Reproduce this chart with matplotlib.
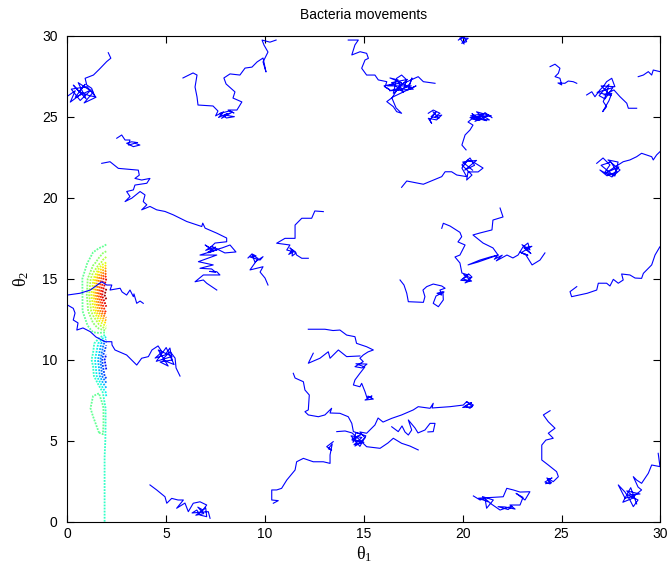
import matplotlib
matplotlib.use("Agg")
import matplotlib.pyplot as plt
import numpy as np

plt.rcParams["font.family"] = ["Liberation Sans", "DejaVu Sans"]
plt.rcParams["mathtext.fontset"] = "custom"
plt.rcParams["mathtext.rm"] = "Liberation Serif"
plt.rcParams["mathtext.it"] = "Liberation Serif:italic"

# nutrient field, sampled on a narrow strip along the left wall
grid_x = [0.4, 0.7, 1.0, 1.3, 1.6, 1.8, 1.97]
grid_y = list(range(19))
field_rows = [
    [0, 0, 0, 0, 0, -0.1, -0.5],
    [0, 0, 0, 0, 0, -0.1, -0.5],
    [0, 0, 0, 0, 0, -0.1, -0.5],
    [0, 0, 0, 0, 0, -0.1, -0.5],
    [0, 0, 0, 0, 0.05, -0.1, -0.5],
    [0, 0, 0, 0.1, 0.15, 0.2, -0.5],
    [0, 0, 0, 0.15, 0.45, 0.45, -0.5],
    [0, 0, 0.1, 0.45, 0.55, 0.45, -0.5],
    [0, 0, 0, 0.25, 0.28, -0.35, -0.9],
    [0, 0, 0, -0.15, -1.2, -2.2, -2.8],
    [0, 0, 0, -0.4, -1.6, -2.7, -3.3],
    [0, 0, -0.05, -0.15, -0.9, -1.8, -2.4],
    [0, 0.07, 0.22, 0.5, 0.95, 1.3, 1.6],
    [0, 0.2, 0.63, 1.6, 3.0, 3.9, 4.5],
    [0, 0.15, 0.84, 2.2, 3.9, 5.0, 5.6],
    [0, 0.2, 0.7, 1.7, 3.3, 4.2, 4.8],
    [0, 0.08, 0.27, 0.6, 1.05, 1.5, 1.8],
    [0, 0, 0.05, 0.12, 0.2, 0.29, 0.35],
    [0, 0, 0, 0, 0, 0, -0.1],
]
contour_levels = [-3.0, -2.5, -2.0, -1.4, -0.8, -0.3, 0.3, 0.8, 1.3, 1.8,
                  2.3, 2.8, 3.3, 3.8, 4.3, 4.8, 5.3]

# bacteria tracks (theta1, theta2)
w01_x = [0.05, 0.40, 0.15, 0.70, 0.30, 0.95, 0.55, 1.30, 0.85, 1.45, 1.00, 0.20,
         0.65, 1.20, 0.40, 0.90, 0.60, 1.10, 1.40, 1.23, 0.98, 0.90, 1.32, 1.62,
         1.99, 2.20, 2.07]
w01_y = [26.30, 26.60, 25.90, 26.40, 26.95, 26.10, 27.10, 26.50, 25.85, 26.20,
         26.85, 26.70, 26.00, 26.65, 26.20, 27.00, 26.55, 26.30, 26.23, 26.75,
         26.96, 27.37, 27.57, 27.93, 28.40, 28.61, 28.95]

w02_x = [5.85, 6.36, 6.56, 6.46, 6.56, 6.61, 7.37, 7.62, 7.50, 7.90, 7.65, 8.10,
         7.80, 8.30, 7.95, 8.45, 8.05, 7.70, 8.20, 8.43, 8.13, 8.58, 8.83, 8.38,
         8.48, 8.03, 7.92, 8.23, 8.73, 8.99, 9.34, 9.60, 9.90, 10.05, 9.90,
         10.15, 9.95, 9.85, 10.25, 10.56]
w02_y = [27.39, 27.70, 27.57, 26.83, 26.22, 25.72, 25.66, 25.35, 25.05, 25.30,
         24.95, 25.20, 24.90, 25.25, 25.10, 25.00, 24.92, 25.20, 25.35, 25.23,
         25.41, 25.41, 25.91, 26.15, 26.53, 27.02, 27.39, 27.64, 27.57, 28.00,
         28.06, 28.38, 28.62, 27.76, 28.38, 28.99, 29.42, 29.73, 29.60, 29.73]

w03_x = [2.50, 2.75, 2.92, 3.17, 3.09, 3.42, 3.67, 3.34, 3.00, 3.25, 3.55]
w03_y = [23.67, 23.87, 23.56, 23.56, 23.25, 23.36, 23.25, 23.15, 23.36, 23.45,
         23.40]

w04_x = [1.74, 2.16, 2.58, 3.59, 3.64, 3.42, 3.76, 4.18, 4.02, 3.42, 3.34, 3.00,
         3.17, 2.92, 3.26, 3.68, 3.93, 3.84, 4.02, 3.76, 4.18, 4.52, 4.94, 5.36,
         6.04, 6.80, 6.85, 6.97, 7.56, 8.06, 8.06, 7.47, 7.22, 6.97, 7.32, 7.12,
         7.83, 8.23, 8.53, 7.97, 7.30, 7.00, 7.50, 7.15, 7.60, 6.71, 7.56, 6.63,
         7.38, 6.71, 7.30, 7.50, 7.20, 7.56, 7.72, 6.88, 6.46, 6.88, 7.05, 7.56]
w04_y = [22.12, 22.22, 21.81, 21.70, 21.39, 21.19, 21.09, 21.19, 20.89, 20.78,
         20.48, 20.38, 20.07, 19.76, 19.97, 20.38, 20.17, 19.76, 19.56, 19.25,
         19.46, 19.25, 19.15, 18.94, 18.53, 18.22, 18.43, 18.12, 17.81, 17.51,
         17.28, 17.20, 16.90, 17.08, 16.77, 16.65, 16.90, 17.08, 16.65, 16.59,
         17.00, 16.75, 16.95, 16.60, 16.80, 16.46, 16.46, 16.05, 15.85, 15.64,
         15.60, 15.40, 15.45, 15.43, 15.23, 15.23, 14.81, 14.92, 14.72, 14.30]

w05_x = [9.14, 9.34, 9.55, 9.24, 9.75, 9.90, 9.49, 9.35, 9.65, 9.24, 9.64, 9.90,
         9.75, 10.00, 10.15]
w05_y = [16.28, 16.53, 16.40, 16.34, 16.15, 16.36, 16.03, 16.45, 16.25, 15.54,
         15.66, 15.74, 15.41, 15.04, 14.61]

w06_x = [12.95, 12.52, 12.36, 11.86, 11.52, 11.52, 11.01, 10.59, 11.26, 11.10,
         11.43, 11.26, 11.57, 11.37, 11.40, 11.20, 11.50, 11.60, 11.86, 12.19]
w06_y = [19.14, 19.18, 18.73, 18.73, 18.31, 17.49, 17.49, 17.19, 17.08, 16.77,
         16.67, 16.90, 16.59, 16.40, 16.80, 16.50, 16.70, 16.46, 16.26, 16.26]

w07_x = [14.21, 14.72, 14.55, 14.47, 14.39, 14.81, 15.14, 15.23, 15.06, 14.89,
         15.14, 15.56, 15.73, 16.16, 16.07, 16.32, 16.02, 16.47, 16.73, 16.32,
         16.90, 16.20, 17.40, 16.60, 17.20, 16.40, 17.00, 16.70, 17.50, 16.30,
         16.83, 16.49, 16.66, 16.91, 17.17, 17.03, 17.33, 17.43, 17.23, 17.64,
         16.49, 16.16, 16.49, 16.66, 16.91, 16.63, 16.42, 16.83, 17.75, 18.01,
         18.60]
w07_y = [29.73, 29.73, 29.43, 29.12, 28.81, 29.01, 28.91, 28.60, 28.50, 27.99,
         27.57, 27.57, 27.27, 27.16, 26.83, 26.65, 26.90, 27.02, 27.27, 27.39,
         27.10, 26.90, 26.90, 26.60, 27.30, 27.10, 26.50, 27.20, 26.70, 26.60,
         26.77, 26.44, 27.37, 27.57, 27.27, 26.77, 27.02, 27.39, 26.65, 26.90,
         26.23, 25.93, 25.62, 25.31, 25.21, 25.54, 26.15, 26.96, 27.47, 27.16,
         27.06]

w08_x = [18.26, 18.51, 18.85, 18.60, 18.94, 18.68, 18.26, 18.43, 18.34, 18.65,
         18.40, 18.80, 18.50]
w08_y = [25.21, 25.41, 25.21, 25.00, 25.10, 24.80, 24.90, 24.59, 24.80, 25.29,
         25.00, 24.90, 25.30]

w09_x = [21.48, 21.13, 20.78, 20.47, 20.87, 20.37, 21.28, 20.62, 21.05, 20.50,
         21.35, 20.90, 20.40, 21.20, 20.70, 21.45, 20.55, 20.27, 20.52, 20.37,
         20.12, 19.96, 20.17]
w09_y = [24.94, 25.25, 24.88, 25.19, 24.77, 24.94, 25.06, 24.71, 25.20, 24.85,
         24.80, 25.15, 25.05, 24.75, 25.30, 25.05, 24.95, 24.67, 24.48, 24.18,
         23.87, 23.25, 22.95]

w10_x = [16.91, 17.17, 18.01, 18.94, 19.11, 19.44, 19.70, 20.20, 19.96, 20.27,
         20.62, 20.78, 21.03, 20.78, 20.27, 20.20, 20.47, 19.96, 20.37, 20.60,
         20.10, 20.70, 20.00, 20.50]
w10_y = [20.64, 21.03, 20.83, 21.30, 21.60, 21.60, 21.40, 21.30, 21.83, 22.33,
         22.14, 22.02, 21.83, 21.59, 21.59, 21.09, 21.40, 22.02, 22.45, 22.00,
         21.70, 22.30, 22.20, 21.70]

w11_x = [24.42, 24.67, 24.92, 24.84, 24.67, 24.92, 25.01, 24.82, 25.17, 25.34,
         25.59, 25.77]
w11_y = [28.09, 28.24, 27.99, 27.68, 27.47, 27.37, 26.96, 27.08, 27.06, 27.20,
         27.16, 27.06]

w12_x = [26.27, 26.53, 26.69, 26.94, 27.11, 27.28, 27.54, 27.70, 27.00, 27.50,
         26.80, 27.60, 27.20, 26.90, 27.40, 27.35, 27.28, 27.11, 27.28, 27.08,
         27.40, 27.54, 27.15, 27.65, 27.96, 28.30, 28.38, 28.80]
w12_y = [26.34, 26.54, 26.23, 26.65, 26.85, 27.16, 27.37, 26.85, 26.90, 26.30,
         26.50, 26.80, 26.10, 26.30, 27.00, 26.77, 26.44, 25.93, 25.62, 25.31,
         25.99, 26.44, 26.34, 26.65, 26.23, 25.83, 25.52, 25.52]

w13_x = [28.88, 29.14, 29.39, 29.56, 29.64, 29.98, 30.18]
w13_y = [27.47, 27.57, 27.78, 27.57, 27.88, 27.78, 27.70]

w14_x = [26.78, 27.10, 27.45, 27.20, 27.70, 27.86, 27.35, 27.96, 27.55, 26.94,
         27.30, 27.80, 27.50, 27.00, 27.60, 27.90, 27.20, 28.12, 28.46, 28.80,
         29.05, 29.56, 29.64, 29.81, 29.98]
w14_y = [22.12, 22.45, 22.02, 21.59, 21.34, 22.20, 22.33, 21.71, 21.28, 21.71,
         21.35, 21.60, 22.20, 22.00, 21.40, 21.90, 21.50, 22.22, 22.33, 22.53,
         22.74, 22.53, 22.33, 22.64, 22.84]

w15_x = [18.94, 19.02, 19.36, 19.86, 19.95, 19.76, 20.12, 19.86, 19.61, 19.86,
         19.96, 20.27, 20.02, 20.37, 20.12, 20.47, 20.30, 19.90, 20.45, 20.05,
         20.40]
w15_y = [18.11, 18.42, 18.25, 17.86, 17.59, 17.27, 17.08, 16.46, 16.34, 15.97,
         15.35, 15.23, 14.98, 14.86, 14.74, 15.10, 15.30, 14.90, 14.85, 15.25,
         15.05]

w16_x = [21.89, 22.04, 21.53, 21.48, 20.87, 20.52, 21.03, 21.53, 21.79, 21.39,
         20.87, 20.27, 20.78, 21.79, 21.60, 22.00, 21.70, 22.24, 22.54, 22.80,
         23.05, 23.30, 23.40, 23.00, 23.45, 23.10, 23.50, 22.95, 23.30, 22.90,
         23.20, 23.51, 23.91, 24.16]
w16_y = [19.36, 18.81, 18.62, 18.01, 17.82, 17.70, 17.20, 16.90, 16.46, 16.34,
         16.15, 15.85, 16.03, 16.46, 16.20, 16.45, 16.10, 16.46, 16.28, 16.46,
         16.96, 17.20, 16.77, 17.10, 16.55, 16.90, 17.00, 16.60, 16.45, 16.65,
         16.46, 15.85, 16.15, 16.59]

w17_x = [25.77, 25.43, 25.51, 26.30, 26.78, 26.86, 27.28, 27.45, 27.62, 27.87,
         28.12, 28.04, 28.46, 28.72, 29.05, 29.14, 29.31, 29.56, 29.73, 29.98,
         30.08]
w17_y = [14.51, 14.20, 13.89, 14.10, 14.30, 14.72, 14.72, 14.55, 14.96, 14.72,
         14.92, 15.29, 15.23, 15.04, 15.02, 15.33, 15.54, 15.85, 16.46, 16.98,
         16.71]

w18_x = [24.42, 24.08, 24.33, 24.67, 24.33, 24.58, 24.21, 24.00, 24.00, 24.33,
         24.75, 24.84, 24.58, 24.26, 24.42, 24.16, 24.52, 24.30, 24.50, 24.20]
w18_y = [6.85, 6.59, 6.17, 5.77, 5.46, 5.15, 5.04, 4.73, 3.81, 3.50, 3.09, 2.78,
         2.47, 2.70, 2.33, 2.45, 2.70, 2.60, 2.40, 2.35]

w19_x = [20.54, 20.88, 21.13, 21.21, 21.55, 21.00, 21.35, 20.80, 22.05, 22.23,
         22.56, 22.90, 23.40, 23.15, 22.70, 23.05, 22.90, 22.39, 22.65, 22.14,
         21.79, 22.30, 22.50, 22.20, 21.89, 21.38]
w19_y = [1.59, 1.34, 1.44, 0.83, 1.34, 1.55, 1.20, 1.45, 1.54, 2.06, 1.96, 1.83,
         1.85, 1.34, 1.75, 1.50, 1.03, 1.03, 0.78, 0.91, 0.93, 0.75, 0.95, 0.85,
         0.72, 1.15]

w20_x = [29.89, 29.98, 29.56, 29.39, 29.05, 28.80, 28.63, 28.87, 29.05, 28.63,
         28.21, 27.87, 28.21, 28.46, 28.63, 28.87, 28.36, 28.97, 28.30, 28.70,
         28.10, 28.50, 28.80]
w20_y = [4.22, 3.40, 3.50, 2.99, 2.37, 2.57, 2.78, 2.14, 1.96, 1.54, 1.46, 2.27,
         1.83, 1.34, 0.93, 1.34, 1.65, 1.71, 1.90, 1.50, 1.20, 2.10, 1.10]

w21_x = [13.45, 13.12, 13.37, 13.20, 13.40, 13.29, 13.29, 12.95, 12.44, 11.94,
         11.60, 11.52, 11.10, 10.84, 10.59, 10.34, 10.34, 10.67, 10.42]
w21_y = [4.94, 4.63, 4.43, 4.50, 4.80, 4.12, 3.60, 3.70, 3.70, 3.91, 3.70, 3.19,
         2.57, 2.06, 1.96, 1.96, 1.34, 1.30, 1.14]

w22_x = [11.43, 11.52, 11.94, 12.02, 12.24, 12.19, 12.02, 12.19, 12.70, 13.03,
         13.37, 13.29, 13.79, 14.21, 14.39, 14.47, 14.90, 14.40, 15.00, 14.50,
         14.90, 14.35, 14.80, 15.10, 14.60, 14.45, 14.70, 14.40, 14.91, 14.55,
         15.06, 14.80, 15.14, 15.56, 15.72, 15.97, 16.41, 16.91, 17.50, 17.75,
         18.35, 18.51, 18.45, 19.36, 20.03, 20.20, 20.54, 20.37, 20.12, 20.45,
         20.00, 20.50, 20.20]
w22_y = [9.16, 8.87, 8.64, 8.13, 7.82, 6.90, 6.79, 6.59, 6.48, 6.59, 7.00, 6.71,
         6.69, 6.48, 6.07, 5.56, 5.40, 5.10, 4.90, 4.75, 5.20, 5.30, 4.65, 5.30,
         5.50, 4.90, 5.29, 5.04, 4.92, 4.67, 5.17, 5.54, 5.46, 5.97, 6.40, 6.15,
         6.38, 6.59, 6.90, 7.10, 7.00, 7.31, 7.02, 7.10, 7.20, 7.41, 7.20, 7.00,
         7.14, 7.35, 7.05, 7.10, 7.40]

w23_x = [13.63, 14.05, 14.40, 14.80, 15.14, 15.82, 16.22, 16.49, 16.91, 17.33,
         17.75]
w23_y = [5.56, 5.60, 5.48, 5.04, 4.63, 4.53, 4.86, 5.15, 4.84, 4.67, 4.43]

w24_x = [16.41, 16.74, 16.93, 17.08, 17.25, 17.42, 17.25, 17.59, 17.74, 18.09,
         18.35, 18.60, 18.51, 18.24]
w24_y = [5.86, 5.56, 5.91, 5.54, 5.35, 5.66, 6.28, 5.78, 5.48, 5.66, 6.07, 6.07,
         5.56, 5.54]

w25_x = [12.19, 13.03, 13.44, 13.79, 14.13, 14.55, 14.63, 15.14, 15.48, 15.21,
         14.97, 14.80, 14.97, 14.55, 14.91, 15.16, 14.60, 15.05, 14.80, 14.55,
         14.47, 14.80, 14.89, 15.06, 15.16, 15.41, 15.06, 15.48, 15.20, 15.40]
w25_y = [11.88, 11.88, 11.80, 11.83, 11.52, 11.42, 11.01, 10.80, 10.60, 10.48,
         10.29, 10.09, 9.88, 9.57, 9.49, 9.73, 9.75, 9.55, 9.16, 8.75, 8.44, 8.33,
         8.54, 8.02, 7.64, 7.76, 7.51, 7.57, 7.75, 7.62]

w26_x = [12.44, 12.19, 12.78, 13.20, 13.29, 13.71, 14.13, 14.80]
w26_y = [10.40, 9.78, 10.09, 10.49, 10.09, 10.60, 10.19, 10.23]

w27_x = [16.83, 17.03, 17.17, 17.25, 18.01, 18.09, 17.99, 18.18, 18.51, 18.94,
         19.11, 18.85, 18.94, 18.70, 19.00, 19.02, 18.77, 18.51, 18.65, 19.05]
w27_y = [14.92, 14.61, 14.10, 13.58, 13.54, 13.89, 14.30, 14.51, 14.67, 14.55,
         14.41, 14.30, 13.99, 14.10, 14.20, 13.69, 13.27, 13.48, 13.93, 14.18]

w28_x = [4.18, 4.52, 4.94, 5.03, 5.28, 5.60, 5.87, 5.53, 5.95, 6.12, 6.37, 6.71,
         7.05, 6.86, 6.60, 6.90, 6.50, 7.00, 7.05, 6.71, 6.55, 6.31, 7.13, 7.22]
w28_y = [2.27, 1.96, 1.54, 1.14, 1.44, 1.34, 1.34, 0.83, 1.15, 0.62, 1.14, 1.23,
         1.03, 0.72, 0.90, 0.50, 0.40, 0.85, 0.31, 0.41, 0.72, 0.54, 0.62, 0.21]

w29_x = [0.00, 0.64, 1.16, 1.74, 1.99, 2.25, 2.16, 2.67, 2.77, 3.00, 3.07, 3.17,
         3.34, 3.37, 3.51, 3.68, 3.84]
w29_y = [13.99, 14.10, 14.30, 14.81, 14.61, 14.61, 14.30, 14.41, 14.18, 13.99,
         14.12, 14.30, 13.89, 14.06, 13.48, 13.62, 13.48]

w30_x = [0.00, 0.30, 0.39, 0.30, 0.54, 0.48, 0.79, 1.16, 1.45, 1.91, 2.25, 2.26,
         2.41, 3.00, 3.51, 3.76, 4.10, 4.28, 4.59, 4.79, 4.44, 4.94, 5.19, 5.30,
         4.69, 5.10, 4.60, 5.30, 4.50, 5.00, 5.40, 4.80, 5.20, 5.45, 5.50, 5.70]
w30_y = [13.38, 13.17, 12.88, 12.45, 12.27, 11.83, 11.96, 11.73, 11.40, 11.11,
         11.11, 10.91, 10.60, 10.29, 9.67, 10.09, 10.19, 10.60, 10.85, 10.48,
         10.10, 10.29, 10.72, 9.98, 9.86, 9.61, 10.60, 10.20, 9.90, 10.75, 9.70,
         10.00, 10.50, 10.10, 9.49, 8.99]

w31_x = [19.78, 20.03, 20.20, 19.95, 20.28, 19.86, 20.07]
w31_y = [29.73, 29.94, 29.63, 29.53, 29.84, 29.86, 29.49]

walks = [
    (w01_x, w01_y), (w02_x, w02_y), (w03_x, w03_y), (w04_x, w04_y),
    (w05_x, w05_y), (w06_x, w06_y), (w07_x, w07_y), (w08_x, w08_y),
    (w09_x, w09_y), (w10_x, w10_y), (w11_x, w11_y), (w12_x, w12_y),
    (w13_x, w13_y), (w14_x, w14_y), (w15_x, w15_y), (w16_x, w16_y),
    (w17_x, w17_y), (w18_x, w18_y), (w19_x, w19_y), (w20_x, w20_y),
    (w21_x, w21_y), (w22_x, w22_y), (w23_x, w23_y), (w24_x, w24_y),
    (w25_x, w25_y), (w26_x, w26_y), (w27_x, w27_y), (w28_x, w28_y),
    (w29_x, w29_y), (w30_x, w30_y), (w31_x, w31_y),
]

fig = plt.figure(figsize=(6.72, 5.82), dpi=100)
ax = fig.add_axes([0.1002, 0.1036, 0.8825, 0.8351])

ax.contour(grid_x, grid_y, np.array(field_rows), levels=contour_levels,
           cmap="jet", vmin=-4.4, vmax=5.6, linewidths=1.3,
           linestyles=[(0, (1.0, 0.7))])

for wx, wy in walks:
    ax.plot(wx, wy, color="#0000ff", lw=0.8)

ax.set_xlim(0, 30)
ax.set_ylim(0, 30)
ax.set_xticks(range(0, 31, 5))
ax.set_yticks(range(0, 31, 5))
ax.tick_params(direction="in", top=True, right=True, length=5, width=0.8,
               labelsize=10)
ax.tick_params(axis="y", pad=7)
for s in ax.spines.values():
    s.set_linewidth(0.8)

ax.set_title("Bacteria movements", fontsize=10, pad=12)
ax.set_xlabel(r"$\mathrm{\theta}_1$", fontsize=13, labelpad=3)
ax.set_ylabel(r"$\mathrm{\theta}_2$", fontsize=13, labelpad=8)

fig.savefig("out.png", dpi=100)
